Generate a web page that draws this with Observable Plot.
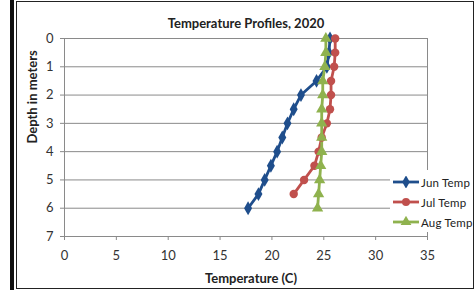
<!DOCTYPE html>
<html><head><meta charset="utf-8">
<script src="https://cdn.jsdelivr.net/npm/d3@7"></script>
<script src="https://cdn.jsdelivr.net/npm/@observablehq/plot@0.6"></script>
<style>
body{margin:0;background:#fff;font-family:Lato,"Liberation Sans",sans-serif;}
#wrap{position:relative;width:474px;height:290px;overflow:hidden;background:#fff}
#bar{position:absolute;left:10px;top:0;width:4px;height:290px;background:#111}
#frame{position:absolute;left:16px;top:1px;width:458px;height:288px;border:1.5px solid #222;box-sizing:border-box}
#chart{position:absolute;left:0;top:0}
#legend{position:absolute;left:390px;top:170px;width:84px;height:62px;background:#fff}
.item{position:absolute;left:2px;height:14px;display:flex;align-items:center;font-size:11.5px;color:#222;white-space:nowrap;letter-spacing:0.2px}
.item svg{margin-right:1px}
</style></head>
<body>
<div id="wrap">
<div id="bar"></div>
<div id="chart"></div>
<div id="legend"></div>
<div id="frame"></div>
</div>
<script>
const depths = [0,0.5,1,1.5,2,2.5,3,3.5,4,4.5,5,5.5,6];
const junTemp = [25.6,25.5,25.3,24.3,22.8,22.1,21.5,21.0,20.5,19.9,19.3,18.7,17.7];
const julTemp = [26.1,26.1,26.0,25.7,25.7,25.6,25.3,24.8,24.5,24.1,23.1,22.1];
const augTemp = [25.2,25.2,25.1,24.9,24.9,24.8,24.8,24.8,24.8,24.7,24.6,24.5,24.4];
const seriesNames = ["Jun Temp","Jul Temp","Aug Temp"];
const colors = ["#1f4e8c","#c0504d","#8fb24e"];
const symbols = ["diamond","circle","triangle"];
const xTicks = [0,5,10,15,20,25,30,35];
const yTicks = [0,1,2,3,4,5,6,7];

const rows = [];
[junTemp,julTemp,augTemp].forEach((arr,i)=>arr.forEach((t,j)=>rows.push({series:seriesNames[i],depth:depths[j],temp:t})));

const chart = Plot.plot({
  width:474, height:290,
  marginTop:38, marginBottom:54, marginLeft:64, marginRight:47,
  style:{fontFamily:"Lato, 'Liberation Sans', sans-serif", fontSize:"12px", color:"#333", background:"transparent"},
  x:{domain:[0,35], ticks:xTicks, label:null},
  y:{domain:[0,7], reverse:true, ticks:yTicks, label:null},
  color:{domain:seriesNames, range:colors},
  symbol:{domain:seriesNames, range:symbols},
  marks:[
    Plot.gridY(yTicks,{stroke:"#8a8a8a", strokeOpacity:1, strokeWidth:1}),
    Plot.ruleX([35],{stroke:"#8a8a8a"}),
    Plot.ruleX([0],{stroke:"#8a8a8a"}),
    Plot.ruleY([7],{stroke:"#8a8a8a"}),
    Plot.axisY(yTicks,{tickSize:4, tickPadding:7, stroke:"#8a8a8a", fill:"#333", fontSize:13}),
    Plot.axisX(xTicks,{tickSize:4, tickPadding:10, stroke:"#8a8a8a", fill:"#333", fontSize:13}),
    Plot.line(rows,{x:"temp", y:"depth", z:"series", stroke:"series", strokeWidth:2.8}),
    Plot.dot(rows,{x:"temp", y:"depth", fill:"series", symbol:"series", r:4.2, stroke:"none"}),
    Plot.text(["Temperature Profiles, 2020"],{frameAnchor:"top", dy:-20, fontWeight:"bold", fontSize:13, fill:"#222"}),
    Plot.text(["Temperature (C)"],{frameAnchor:"bottom", dy:46, dx:5, fontWeight:"bold", fontSize:13, fill:"#222"}),
    Plot.text(["Depth in meters"],{frameAnchor:"left", rotate:-90, dx:-32, dy:6, fontWeight:"bold", fontSize:13, fill:"#222"})
  ]
});
document.getElementById("chart").appendChild(chart);

const legend = document.getElementById("legend");
seriesNames.forEach((name,i)=>{
  const d = document.createElement("div");
  d.className="item";
  d.style.top = (5 + i*20) + "px";
  const sym = d3.symbol(d3.symbolsFill[["circle","cross","diamond","square","star","triangle","wye"].indexOf(symbols[i])], 50)();
  d.innerHTML = `<svg width="28" height="12"><line x1="1" x2="27" y1="6" y2="6" stroke="${colors[i]}" stroke-width="2.8"/><path d="${sym}" transform="translate(14,6)" fill="${colors[i]}"/></svg>${name}`;
  legend.appendChild(d);
});
</script>
</body></html>
